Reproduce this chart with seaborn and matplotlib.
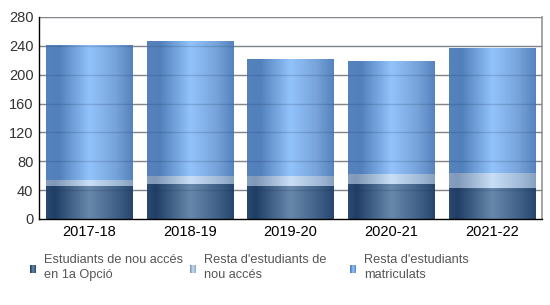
import matplotlib
matplotlib.use("Agg")
import matplotlib.pyplot as plt
import numpy as np
import pandas as pd
import seaborn as sns
from matplotlib.colors import LinearSegmentedColormap

years = ['2017-18', '2018-19', '2019-20', '2020-21', '2021-22']
first_option = [46, 49, 46, 49, 43]
other_new = [8, 11, 13, 13, 21]
rest_enrolled = [186, 186, 161, 156, 172]
labels = ["Estudiants de nou accés\nen 1a Opció",
          "Resta d'estudiants de\nnou accés",
          "Resta d'estudiants\nmatriculats"]
yticks = [0, 40, 80, 120, 160, 200, 240, 280]

sns.set_theme(style="white")
plt.rcParams['font.family'] = ['Liberation Sans', 'DejaVu Sans']

grads = [
    LinearSegmentedColormap.from_list("d", [(0, '#2a4a72'), (0.1, '#213f66'), (0.5, '#6888ab'), (0.85, '#3d5c84'), (1, '#26466e')]),
    LinearSegmentedColormap.from_list("l", [(0, '#86a0bf'), (0.1, '#8199b8'), (0.5, '#c9def6'), (0.85, '#9fb8d5'), (1, '#86a0bf')]),
    LinearSegmentedColormap.from_list("m", [(0, '#5683be'), (0.15, '#5280bb'), (0.5, '#93c3fb'), (0.8, '#77a3da'), (1, '#5683be')]),
]

fig = plt.figure(figsize=(5.5, 3.05), dpi=100)
ax = fig.add_axes([39/550, 1-219/305, 503/550, 202/305])

bottoms = np.zeros(len(years))
series = [first_option, other_new, rest_enrolled]
for vals, cmap in zip(series, grads):
    n_before = len(ax.patches)
    sns.barplot(x=years, y=vals, bottom=bottoms, ax=ax, color='white', width=0.855,
                order=years, errorbar=None, linewidth=0, edgecolor='none')
    bottoms = bottoms + np.array(vals)
    for p in ax.patches[n_before:]:
        p.set_facecolor('none')
        p.set_edgecolor('none')
        x0, y0 = p.get_x(), p.get_y()
        w, h = p.get_width(), p.get_height()
        grad = np.linspace(0, 1, 256).reshape(1, -1)
        ax.imshow(grad, cmap=cmap, extent=[x0, x0 + w, y0, y0 + h], aspect='auto',
                  zorder=1, interpolation='bilinear')

ax.set_xlim(-0.5, len(years) - 0.5)
ax.set_ylim(0, 280)
ax.set_yticks(yticks)
ax.set_yticklabels([str(t) for t in yticks], fontsize=10.5, color='#333333')
ax.tick_params(axis='x', labelsize=10.5, colors='black', length=0, pad=4)
ax.tick_params(axis='y', length=0, pad=4)
for t in yticks[1:]:
    ax.axhline(t, color='#999999', lw=1, zorder=0.5)
    ax.axhline(t, color='#1a3050', alpha=0.18, lw=1, zorder=3)
ax.set_xlabel('')
ax.set_ylabel('')
for s in ['left', 'bottom']:
    ax.spines[s].set_color('black')
    ax.spines[s].set_linewidth(1)
    ax.spines[s].set_zorder(4)
ax.spines['right'].set_color('#999999')
ax.spines['top'].set_visible(False)

# legend
leg_x = [30, 190, 350]
for xpos, lab, cmap in zip(leg_x, labels, grads):
    lax = fig.add_axes([xpos/550, 1-273/305, 6/550, 8/305])
    lax.imshow(np.linspace(0, 1, 64).reshape(1, -1), cmap=cmap, aspect='auto')
    lax.set_axis_off()
    fig.text((xpos + 14)/550, 1-267.5/305, lab, fontsize=9.2, color='#555555',
             va='center', ha='left', linespacing=1.32)

fig.savefig('out.png', dpi=100)
